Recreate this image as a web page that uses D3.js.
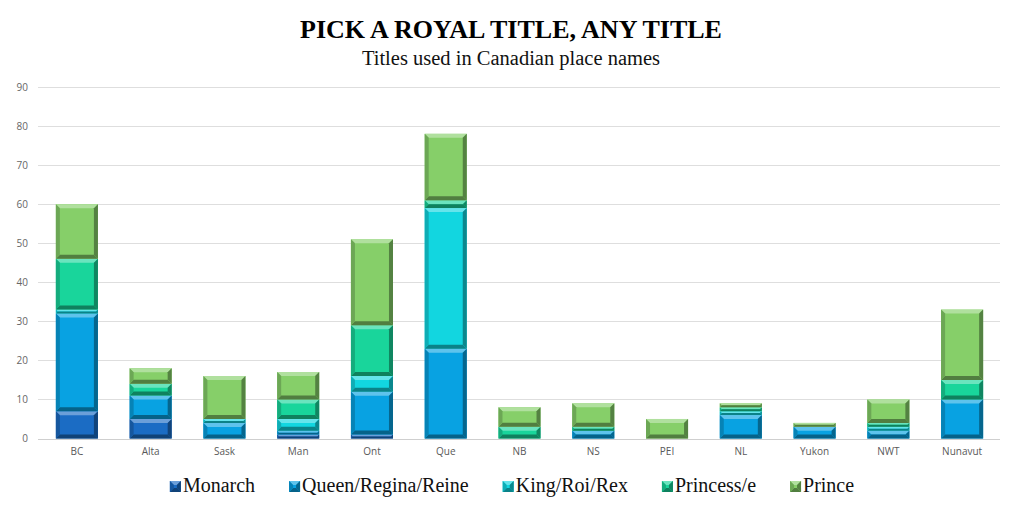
<!DOCTYPE html>
<html>
<head>
<meta charset="utf-8">
<script src="https://cdn.jsdelivr.net/npm/d3@7"></script>
<style>
  body { margin: 0; background: #fff; }
  svg { display: block; }
</style>
</head>
<body>
<svg id="chart"></svg>
<script>
// data
const provinces = ['BC', 'Alta', 'Sask', 'Man', 'Ont', 'Que', 'NB', 'NS', 'PEI', 'NL', 'Yukon', 'NWT', 'Nunavut']
const titles = ['Monarch', 'Queen/Regina/Reine', 'King/Roi/Rex', 'Princess/e', 'Prince']
const monarch  = [7, 5, 0, 1, 1, 0, 0, 0, 0, 0, 0, 0, 0]
const queen    = [25, 6, 4, 1, 11, 23, 0, 2, 0, 6, 3, 2, 10]
const king     = [1, 0, 1, 3, 4, 36, 0, 0, 0, 1, 0, 1, 0]
const princess = [13, 3, 0, 5, 13, 2, 3, 1, 0, 1, 0, 1, 5]
const prince   = [14, 4, 11, 7, 22, 17, 5, 6, 5, 1, 1, 6, 18]
const yTicks = [0, 10, 20, 30, 40, 50, 60, 70, 80, 90]
const colors = ['#1b6cc4', '#08a2e2', '#12d6e0', '#19d59b', '#86cf69']

const series = [monarch, queen, king, princess, prince]

const W = 1024, H = 512
const svg = d3.select('#chart').attr('width', W).attr('height', H)

// title
svg.append('text')
    .attr('x', 511).attr('y', 38)
    .attr('text-anchor', 'middle')
    .style('font-family', '"Liberation Serif", serif')
    .style('font-weight', 'bold')
    .style('font-size', '26px')
    .style('fill', '#000')
    .text('PICK A ROYAL TITLE, ANY TITLE')
svg.append('text')
    .attr('x', 511).attr('y', 65)
    .attr('text-anchor', 'middle')
    .style('font-family', '"Liberation Serif", serif')
    .style('font-size', '20.5px')
    .style('fill', '#111')
    .text('Titles used in Canadian place names')

// scales
const x = d3.scaleBand().domain(provinces).range([40, 999]).paddingInner(0.43).paddingOuter(0.215)
const y = d3.scaleLinear().domain([0, 90]).range([438.5, 87])

// gridlines
svg.append('g')
    .selectAll('line')
    .data(yTicks)
    .join('line')
    .attr('x1', 38).attr('x2', 1000)
    .attr('y1', d => Math.round(y(d)) + 0.5).attr('y2', d => Math.round(y(d)) + 0.5)
    .attr('stroke', d => d === 0 ? '#cfcfcf' : '#dedede')
    .attr('stroke-width', 1)

// y labels
const yAxis = d3.axisLeft(y).tickValues(yTicks).tickSize(0).tickPadding(0)
const gy = svg.append('g').attr('transform', 'translate(28,0)').call(yAxis)
gy.select('.domain').remove()
gy.selectAll('text')
    .style('font-family', '"Open Sans", sans-serif')
    .style('font-size', '10px')
    .style('fill', '#666')

// x labels
const xAxis = d3.axisBottom(x).tickSize(0).tickPadding(0)
const gx = svg.append('g').attr('transform', 'translate(0,448)').call(xAxis)
gx.select('.domain').remove()
gx.selectAll('text')
    .style('font-family', '"Open Sans", sans-serif')
    .style('font-size', '10px')
    .style('fill', '#595959')

// stacked bars with a bevel look
const table = provinces.map((p, i) => {
    const row = { p }
    titles.forEach((t, k) => { row[t] = series[k][i] })
    return row
})
const stacked = d3.stack().keys(titles)(table)

const bevel = (g, x0, y0, w, h, col) => {
    const b = Math.min(4, h / 2)
    const c = d3.color(col)
    g.append('rect').attr('x', x0).attr('y', y0).attr('width', w).attr('height', h).attr('fill', col)
    const poly = (pts, fill) => g.append('polygon')
        .attr('points', pts.map(p => p.join(',')).join(' '))
        .attr('fill', fill)
    poly([[x0, y0], [x0 + w, y0], [x0 + w - b, y0 + b], [x0 + b, y0 + b]], d3.interpolateRgb(col, '#ffffff')(0.35))
    poly([[x0, y0 + h], [x0 + w, y0 + h], [x0 + w - b, y0 + h - b], [x0 + b, y0 + h - b]], c.darker(1.4))
    poly([[x0, y0], [x0 + b, y0 + b], [x0 + b, y0 + h - b], [x0, y0 + h]], c.darker(0.6))
    poly([[x0 + w, y0], [x0 + w - b, y0 + b], [x0 + w - b, y0 + h - b], [x0 + w, y0 + h]], c.darker(1.3))
}

const bars = svg.append('g')
stacked.forEach((layer, k) => {
    layer.forEach((d, i) => {
        const h = y(d[0]) - y(d[1])
        if (h <= 0) return
        bevel(bars, x(provinces[i]), y(d[1]), x.bandwidth(), h, colors[k])
    })
})

// legend
const legend = svg.append('g')
let cx = 0
titles.forEach((t, k) => {
    const g = legend.append('g')
    bevel(g, 0, -11, 11, 11, colors[k])
    const tx = g.append('text')
        .attr('x', 13).attr('y', 0)
        .style('font-family', '"Liberation Serif", serif')
        .style('font-size', '20px')
        .style('fill', '#111')
        .text(t)
    const w = 13 + tx.node().getComputedTextLength()
    g.attr('transform', `translate(${cx},0)`)
    cx += w + 34
})
const total = cx - 34
legend.attr('transform', `translate(${(W - total) / 2},492)`)
</script>
</body>
</html>
